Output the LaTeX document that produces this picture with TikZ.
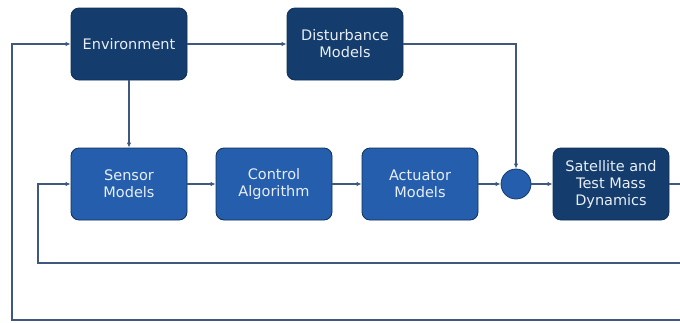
\documentclass[tikz,border=0pt]{standalone}
\usepackage{fontspec}
\setmainfont{DejaVu Sans}
\usepackage{tikz}
\usetikzlibrary{arrows.meta}

\definecolor{navy}{RGB}{20,60,108}
\definecolor{midblue}{RGB}{36,94,172}
\definecolor{wire}{RGB}{62,88,126}
\definecolor{boxtext}{RGB}{232,238,246}

\begin{document}
\begin{tikzpicture}[x=1pt,y=-1pt,
  block/.style={draw=navy!80!black,line width=0.8pt,rounded corners=8pt,
    minimum width=116pt,minimum height=72pt,align=center,text=boxtext,
    font=\fontsize{14.5}{17}\selectfont},
  darkblock/.style={block,fill=navy},
  lightblock/.style={block,fill=midblue},
  sumpt/.style={circle,draw=navy,line width=0.8pt,fill=midblue,minimum size=30pt,inner sep=0pt},
  wire/.style={draw=wire,line width=1.2pt,-{Latex[length=5pt,width=4.5pt]}}]
\useasboundingbox (0,0) rectangle (680,322);
% upper row
\node[darkblock] (env) at (129,44) {Environment};
\node[darkblock] (dist) at (345,44) {Disturbance\\Models};
% main loop
\node[lightblock] (sens) at (129,184) {Sensor\\Models};
\node[lightblock] (ctrl) at (274,184) {Control\\Algorithm};
\node[lightblock] (act) at (420,184) {Actuator\\Models};
\node[sumpt] (sum) at (516,184) {};
\node[darkblock] (sat) at (611,184) {Satellite and\\Test Mass\\Dynamics};
% free ends at the right edge
\coordinate (out) at (680,184);
\coordinate (fbin) at (680,263);
\coordinate (fbout) at (680,320);

\draw[wire] (env) -- (dist);
\draw[wire] (env) -- (sens);
\draw[wire] (dist) -| (sum);
\draw[wire] (sens) -- (ctrl);
\draw[wire] (ctrl) -- (act);
\draw[wire] (act) -- (sum);
\draw[wire] (sum) -- (sat);
\draw[wire,-] (sat) -- (out);
\draw[wire] (fbin) -- (38,263) |- (sens);
\draw[wire] (fbout) -- (12,320) |- (env);
\end{tikzpicture}
\end{document}
